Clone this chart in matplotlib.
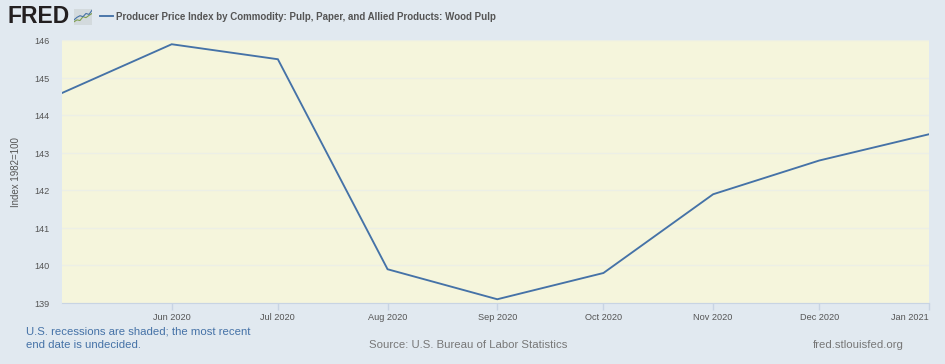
import matplotlib
matplotlib.use("Agg")
import matplotlib.pyplot as plt
import matplotlib.dates as mdates
from datetime import date

plt.rcParams['font.family'] = ['Liberation Sans', 'DejaVu Sans']

dates = [date(2020, 5, 1), date(2020, 6, 1), date(2020, 7, 1), date(2020, 8, 1), date(2020, 9, 1),
         date(2020, 10, 1), date(2020, 11, 1), date(2020, 12, 1), date(2021, 1, 1)]
values = [144.6, 145.9, 145.5, 139.9, 139.1, 139.8, 141.9, 142.8, 143.5]
tick_dates = dates[1:]
tick_labels = ["Jun 2020", "Jul 2020", "Aug 2020", "Sep 2020", "Oct 2020", "Nov 2020", "Dec 2020", "Jan 2021"]
y_ticks = [139, 140, 141, 142, 143, 144, 145, 146]

# small logo icon
icon_x = [0, 1, 2, 3, 4, 5, 6]
icon_green = [1.0, 1.6, 1.4, 2.6, 2.3, 3.0, 3.6]
icon_blue = [1.6, 2.4, 2.9, 2.6, 3.6, 3.3, 4.6]

W, H = 945, 364
bg = "#e1e9f0"
line_color = "#4572a7"

fig = plt.figure(figsize=((W + 0.01) / 100, (H + 0.01) / 100), dpi=100, facecolor=bg)
ax = fig.add_axes([62 / W, 1 - 303 / H, 867 / W, 262.5 / H], facecolor="#f5f5dc")

ax.plot(dates, values, color=line_color, linewidth=1.35, solid_joinstyle="miter")
ax.set_xlim(dates[0], dates[-1])
ax.set_ylim(139, 146)

ax.set_yticks(y_ticks)
ax.xaxis.set_major_locator(plt.FixedLocator([mdates.date2num(d) for d in tick_dates]))
ax.set_xticklabels(tick_labels)
ax.grid(axis="y", color="#ecefe6", linewidth=1)
ax.set_axisbelow(True)

for side in ["top", "left", "right"]:
    ax.spines[side].set_visible(False)
ax.spines["bottom"].set_color("#c8d4e3")
ax.tick_params(axis="y", length=0, pad=9, labelsize=6.6, labelcolor="#555555")
ax.tick_params(axis="x", length=5, width=1, color="#c8d4e3", pad=2, labelsize=6.6, labelcolor="#555555")
ax.get_xticklabels()[-1].set_ha("right")

fig.text(16 / W, 1 - 172 / H, "Index 1982=100", rotation=90, ha="center", va="center", fontsize=7, color="#555555")

# header
fig.text(7 / W, 1 - 16.5 / H, "FRED", fontsize=16.5, fontweight="bold", color="#231f20", ha="left", va="center")
icon = fig.add_axes([74 / W, 1 - 25 / H, 18 / W, 16 / H], facecolor="#d3dadd")
icon.plot(icon_x, icon_green, color="#7f9f50", linewidth=0.8)
icon.plot(icon_x, icon_blue, color="#4572a7", linewidth=0.8)
icon.set_xlim(0, 6)
icon.set_ylim(0, 5)
icon.set_xticks([])
icon.set_yticks([])
for side in icon.spines:
    icon.spines[side].set_visible(False)
fig.add_artist(plt.Line2D([100 / W, 112.5 / W], [1 - 16.5 / H] * 2, color=line_color, linewidth=1.35))
fig.text(116 / W, 1 - 16.5 / H, "Producer Price Index by Commodity: Pulp, Paper, and Allied Products: Wood Pulp",
         fontsize=7.0, fontweight="bold", color="#555555", ha="left", va="center")

# footer
fig.text(26 / W, 1 - 331 / H, "U.S. recessions are shaded; the most recent", fontsize=8.2, color="#4572a7", ha="left", va="center")
fig.text(26 / W, 1 - 345 / H, "end date is undecided.", fontsize=8.2, color="#4572a7", ha="left", va="center")
fig.text(369 / W, 1 - 345 / H, "Source: U.S. Bureau of Labor Statistics", fontsize=8.2, color="#777777", ha="left", va="center")
fig.text(904 / W, 1 - 345 / H, "fred.stlouisfed.org", fontsize=8.2, color="#777777", ha="right", va="center")

fig.savefig("out.png", dpi=100, facecolor=bg)
